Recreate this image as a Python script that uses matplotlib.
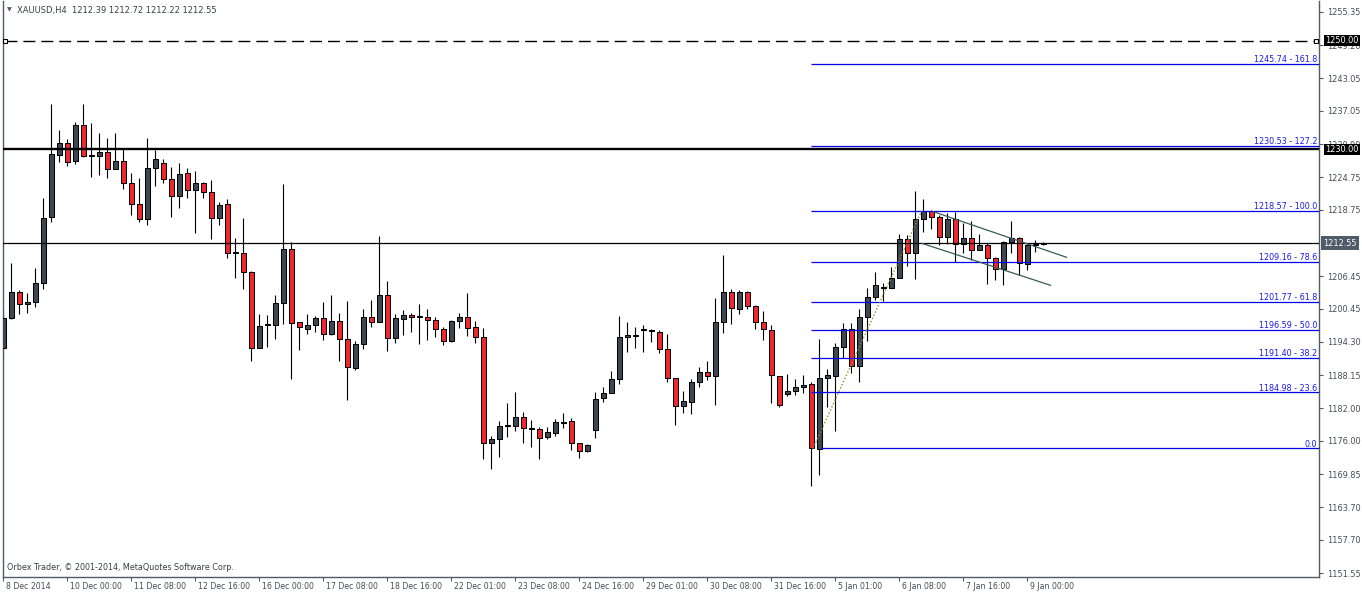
import numpy as np
import matplotlib.pyplot as plt

plt.rcParams['font.family'] = ['DejaVu Sans']

# XAUUSD H4, 8 Dec 2014 - 9 Jan 2015
opens = [1193.13, 1198.68, 1203.49, 1201.27, 1201.64, 1205.15, 1217.36, 1228.83, 1231.05, 1227.72,
         1234.44, 1228.71, 1228.65, 1229.39, 1226.37, 1227.72, 1223.65, 1219.77, 1216.99, 1226.43,
         1227.35, 1224.39, 1221.25, 1225.50, 1222.36, 1223.65, 1221.99, 1217.18, 1219.77, 1210.70,
         1210.70, 1207.19, 1193.13, 1197.38, 1197.38, 1201.45, 1211.44, 1197.94, 1196.64, 1197.38,
         1198.68, 1195.72, 1198.12, 1194.79, 1189.43, 1193.87, 1198.86, 1197.94, 1202.93, 1194.98,
         1198.49, 1199.23, 1198.86, 1198.86, 1198.31, 1196.64, 1194.42, 1198.12, 1198.86, 1197.01,
         1195.16, 1175.55, 1176.29, 1178.70, 1178.82, 1180.36, 1178.26, 1178.14, 1176.66, 1177.40,
         1179.37, 1179.62, 1175.55, 1174.07, 1177.96, 1183.88, 1184.80, 1187.39, 1195.16, 1195.47,
         1196.46, 1196.27, 1196.09, 1192.94, 1187.58, 1182.40, 1183.14, 1186.84, 1188.69, 1187.95,
         1197.94, 1203.49, 1200.34, 1203.49, 1200.90, 1197.94, 1196.46, 1187.95, 1184.62, 1185.17,
         1185.91, 1186.47, 1174.44, 1187.58, 1187.95, 1193.31, 1196.64, 1189.80, 1198.86, 1202.56,
         1204.23, 1204.23, 1206.08, 1213.29, 1210.70, 1216.99, 1218.47, 1217.36, 1213.66, 1216.99,
         1212.37, 1213.48, 1211.26, 1212.18, 1209.78, 1207.74, 1212.74, 1213.48, 1208.67, 1212.18,
         1212.39]
highs = [1200.53, 1208.85, 1203.92, 1203.30, 1207.93, 1220.88, 1238.33, 1233.52, 1231.79, 1234.94,
         1238.33, 1234.75, 1232.90, 1231.98, 1232.90, 1229.94, 1225.50, 1224.58, 1231.98, 1229.82,
         1228.09, 1226.61, 1227.35, 1226.43, 1225.93, 1223.84, 1224.27, 1220.14, 1220.75, 1213.48,
         1217.18, 1207.43, 1199.48, 1199.29, 1202.99, 1223.50, 1212.74, 1197.94, 1199.42, 1199.05,
         1201.70, 1202.93, 1199.60, 1201.88, 1194.42, 1200.34, 1202.07, 1213.91, 1205.58, 1199.42,
         1200.22, 1199.60, 1201.27, 1200.34, 1198.86, 1197.14, 1198.31, 1199.60, 1203.36, 1198.12,
         1196.83, 1176.85, 1179.62, 1182.95, 1184.99, 1181.29, 1179.81, 1178.51, 1178.51, 1179.99,
         1181.10, 1180.18, 1175.55, 1175.37, 1184.99, 1185.97, 1188.93, 1199.11, 1198.00, 1197.01,
         1197.38, 1196.64, 1196.46, 1195.72, 1187.58, 1185.17, 1187.39, 1189.67, 1190.78, 1202.38,
         1210.39, 1204.04, 1203.86, 1203.67, 1201.08, 1199.97, 1197.38, 1187.95, 1188.32, 1187.39,
         1188.13, 1186.90, 1194.79, 1189.24, 1194.05, 1197.75, 1197.75, 1200.34, 1204.23, 1207.19,
         1205.15, 1208.11, 1214.22, 1214.03, 1222.17, 1220.69, 1218.72, 1217.73, 1218.10, 1218.29,
         1216.25, 1216.62, 1214.22, 1212.55, 1209.96, 1212.92, 1216.62, 1213.66, 1212.55, 1213.11,
         1212.72]
lows = [1191.58, 1198.62, 1199.42, 1199.72, 1200.83, 1204.04, 1216.56, 1227.66, 1226.92, 1227.17,
        1228.59, 1224.89, 1225.26, 1224.70, 1226.24, 1222.67, 1217.86, 1216.56, 1216.01, 1223.16,
        1223.78, 1217.49, 1219.15, 1221.00, 1214.53, 1221.00, 1213.42, 1216.01, 1209.78, 1206.20,
        1204.16, 1190.84, 1193.13, 1193.44, 1194.79, 1197.69, 1187.52, 1192.82, 1195.84, 1196.09,
        1194.61, 1195.53, 1190.85, 1183.63, 1189.06, 1192.94, 1197.01, 1197.94, 1192.70, 1194.18,
        1195.59, 1196.21, 1193.99, 1194.61, 1195.29, 1193.74, 1194.24, 1196.83, 1195.47, 1194.18,
        1172.71, 1170.74, 1173.08, 1176.78, 1177.89, 1175.67, 1174.93, 1172.71, 1176.29, 1176.85,
        1178.33, 1174.38, 1172.90, 1173.89, 1176.60, 1183.26, 1184.80, 1186.59, 1192.51, 1193.25,
        1192.51, 1194.36, 1192.33, 1186.96, 1179.01, 1181.10, 1180.92, 1185.91, 1187.21, 1182.58,
        1195.90, 1197.57, 1199.42, 1200.34, 1196.64, 1194.61, 1183.08, 1182.21, 1184.37, 1184.43,
        1184.80, 1167.72, 1169.63, 1182.33, 1177.77, 1191.28, 1188.62, 1186.84, 1194.55, 1202.01,
        1201.82, 1204.23, 1206.08, 1208.42, 1205.89, 1214.59, 1215.14, 1212.18, 1212.37, 1209.04,
        1210.70, 1209.41, 1211.26, 1204.97, 1205.71, 1204.78, 1210.70, 1206.63, 1207.56, 1210.89,
        1212.22]
closes = [1198.68, 1203.49, 1201.27, 1201.64, 1205.15, 1217.18, 1229.02, 1231.05, 1227.60, 1234.44,
          1228.77, 1228.83, 1229.39, 1226.24, 1227.72, 1223.65, 1219.77, 1216.99, 1226.43, 1228.09,
          1224.39, 1221.25, 1225.32, 1222.36, 1223.65, 1221.99, 1217.18, 1219.58, 1210.70, 1210.75,
          1207.31, 1193.13, 1197.20, 1197.44, 1201.45, 1211.44, 1197.75, 1197.01, 1197.38, 1198.68,
          1195.72, 1198.12, 1194.79, 1189.61, 1193.87, 1198.86, 1197.94, 1202.93, 1194.98, 1198.68,
          1199.23, 1198.86, 1198.86, 1198.31, 1196.64, 1194.42, 1198.12, 1198.86, 1196.83, 1195.16,
          1175.55, 1176.29, 1178.70, 1178.82, 1180.36, 1178.33, 1178.30, 1176.48, 1177.59, 1179.44,
          1179.44, 1175.55, 1174.07, 1175.18, 1183.69, 1184.80, 1187.39, 1195.16, 1195.53, 1195.53,
          1196.46, 1196.46, 1192.94, 1187.58, 1182.40, 1183.32, 1186.84, 1188.69, 1187.95, 1197.94,
          1203.49, 1200.53, 1203.49, 1200.90, 1197.94, 1196.64, 1188.13, 1182.58, 1185.17, 1185.91,
          1186.28, 1174.63, 1187.58, 1188.13, 1193.31, 1196.64, 1189.80, 1198.86, 1202.56, 1204.78,
          1204.41, 1206.08, 1213.29, 1210.70, 1216.99, 1218.47, 1217.36, 1213.66, 1216.99, 1212.37,
          1213.48, 1211.26, 1212.18, 1209.78, 1207.74, 1212.74, 1213.48, 1208.85, 1212.18, 1212.40,
          1212.55]

date_labels = ['8 Dec 2014', '10 Dec 00:00', '11 Dec 08:00', '12 Dec 16:00', '16 Dec 00:00',
               '17 Dec 08:00', '18 Dec 16:00', '22 Dec 01:00', '23 Dec 08:00', '24 Dec 16:00',
               '29 Dec 01:00', '30 Dec 08:00', '31 Dec 16:00', '5 Jan 01:00', '6 Jan 08:00',
               '7 Jan 16:00', '9 Jan 00:00']

# 1212.60 sits fully under the bid box in the reference, so it is left out
price_ticks = [1255.35, 1249.20, 1243.05, 1237.05, 1230.90, 1224.75, 1218.75, 1206.45,
               1200.45, 1194.30, 1188.15, 1182.00, 1176.00, 1169.85, 1163.70, 1157.70, 1151.55]

fib_ratios = ['161.8', '127.2', '100.0', '78.6', '61.8', '50.0', '38.2', '23.6', '0.0']
fib_prices = [1245.74, 1230.53, 1218.57, 1209.16, 1201.77, 1196.59, 1191.40, 1184.98, 1174.60]

hline_dashed = 1250.00
hline_thick = 1230.00
bid = 1212.55

# channel and fib base lines: (bar index, price)
chan_top = [(116.25, 1218.41), (132.9, 1209.97)]
chan_bot = [(114.8, 1212.56), (130.9, 1204.79)]
fib_base = [(101.2, 1174.60), (114.8, 1218.57)]

bull = '#3d4853'
bear = '#f0282f'
axis_col = '#4f5b66'
txt_col = '#434c55'

fig = plt.figure(figsize=(13.62, 5.94), dpi=100)
ax = fig.add_axes([2.5 / 1362, 17 / 594, 1316.5 / 1362, 576 / 594])

o = np.array(opens)
h = np.array(highs)
l = np.array(lows)
c = np.array(closes)
x = np.arange(len(o))

up = c >= o
ax.vlines(x, l, h, color='black', lw=0.8, zorder=2)
bottom = np.minimum(o, c)
height = np.maximum(np.abs(c - o), 0.18)
ax.bar(x[up], height[up], bottom=bottom[up], width=0.62, color=bull,
       edgecolor='black', lw=0.75, zorder=3)
ax.bar(x[~up], height[~up], bottom=bottom[~up], width=0.62, color=bear,
       edgecolor='black', lw=0.75, zorder=3)

ax.set_xlim(-0.1, 164.46)
ax.set_ylim(1150.82, 1257.385)

# horizontal lines
ax.plot([0.25, 164.1], [hline_dashed, hline_dashed], color='black', lw=1.0,
        dashes=(8.6, 4.3), zorder=4)
ax.plot([0.25, 164.1], [hline_dashed, hline_dashed], 's', ms=3.5, mfc='white',
        mec='black', mew=0.8, ls='none', zorder=5)
ax.axhline(hline_thick, color='black', lw=1.7, zorder=4)
ax.axhline(bid, color='black', lw=0.9, zorder=4)

# fibonacci levels
for ratio, p in zip(fib_ratios, fib_prices):
    start = 102.2 if ratio == '0.0' else 101.0
    ax.hlines(p, start, 164.46, color='#0000ee', lw=0.9, zorder=4)
    lab = ratio if ratio == '0.0' else '%.2f - %s' % (p, ratio)
    ax.annotate(lab, xy=(1, p), xycoords=ax.get_yaxis_transform(),
                xytext=(-1.2, 1.3), textcoords='offset points',
                ha='right', va='baseline', fontsize=5.8, color='#1a1aee', zorder=6)

ax.plot([p[0] for p in fib_base], [p[1] for p in fib_base], color='#8f8f2a',
        lw=1.0, ls=(0, (1, 1.5)), zorder=4)
ax.plot([p[0] for p in chan_top], [p[1] for p in chan_top], color='#3a5a5a', lw=0.9, zorder=4)
ax.plot([p[0] for p in chan_bot], [p[1] for p in chan_bot], color='#3a5a5a', lw=0.9, zorder=4)

# axes styling
for s in ['left', 'right', 'bottom']:
    ax.spines[s].set_color(axis_col)
    ax.spines[s].set_linewidth(1.0)
ax.spines['top'].set_visible(False)

ax.yaxis.tick_right()
ax.set_yticks(price_ticks)
ax.set_yticklabels(['%.2f' % v for v in price_ticks])
ax.tick_params(axis='y', length=3, width=0.8, color=axis_col, pad=2.5,
               labelsize=5.9, labelcolor=txt_col)

ticks = list(range(0, 8 * len(date_labels), 8))
ax.set_xticks(ticks)
ax.set_xticklabels([''] * len(ticks))
ax.tick_params(axis='x', length=3, width=0.8, color=axis_col)
for t, lab in zip(ticks, date_labels):
    ax.annotate(lab, xy=(t, 0), xycoords=ax.get_xaxis_transform(),
                xytext=(2.2, -7), textcoords='offset points', ha='left', va='center',
                fontsize=5.6, color=txt_col, annotation_clip=False)

# price boxes on the axis
box_kw = dict(xycoords=ax.get_yaxis_transform(), textcoords='offset points',
              ha='left', va='center', fontsize=5.9, color='white', zorder=7,
              annotation_clip=False)
ax.annotate('%.2f' % hline_dashed, xy=(1, hline_dashed), xytext=(4.5, 0),
            bbox=dict(boxstyle='square,pad=0.12', fc='black', ec='none'), **box_kw)
ax.annotate('%.2f' % hline_thick, xy=(1, hline_thick), xytext=(4.5, 0),
            bbox=dict(boxstyle='square,pad=0.12', fc='black', ec='none'), **box_kw)
ax.annotate('%.2f' % bid, xy=(1, bid), xytext=(3.2, 0),
            bbox=dict(boxstyle='square,pad=0.3', fc=axis_col, ec='none'), **box_kw)

# header and footer texts
fig.text(9.5 / 1362, 1 - 10 / 594, '\u25bc', fontsize=4.5, color='#505a64',
         ha='center', va='center')
fig.text(17 / 1362, 1 - 10 / 594, 'XAUUSD,H4  1212.39 1212.72 1212.22 1212.55',
         fontsize=6.0, color='#383f47', ha='left', va='center')
fig.text(7 / 1362, 1 - 568 / 594, 'Orbex Trader, \u00a9 2001-2014, MetaQuotes Software Corp.',
         fontsize=5.8, color='#383f47', ha='left', va='center')

fig.savefig('out.png', dpi=100)
